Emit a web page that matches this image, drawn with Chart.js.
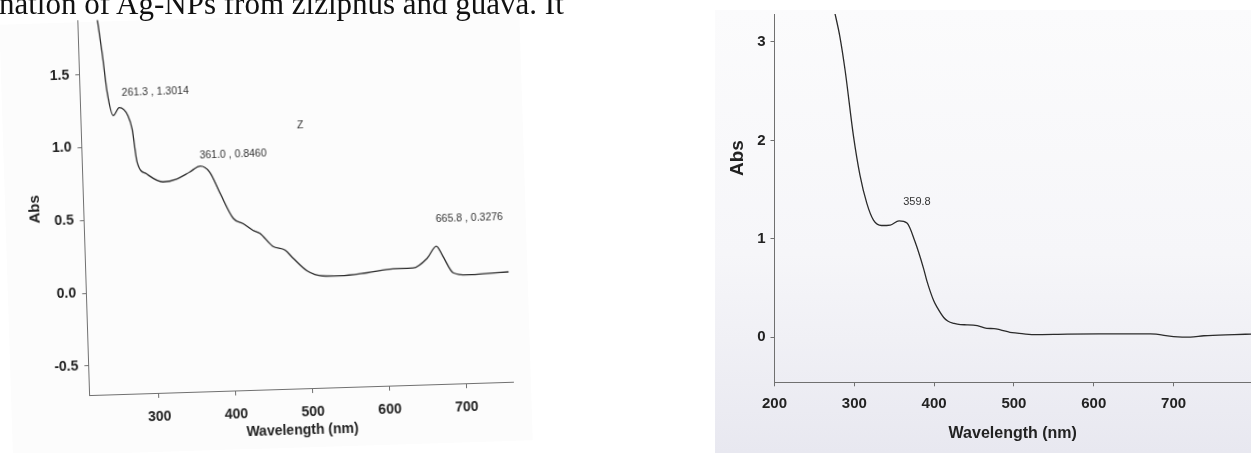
<!DOCTYPE html>
<html>
<head>
<meta charset="utf-8">
<script src="https://cdn.jsdelivr.net/npm/chart.js@4.4.0/dist/chart.umd.min.js"></script>
<style>
  html, body { margin: 0; padding: 0; background: #fff; }
  body { width: 1251px; height: 453px; position: relative; overflow: hidden; }
  #caption {
    position: absolute; left: -1px; top: -12px;
    font: 31px/31px "Liberation Serif", "Times New Roman", serif;
    color: #111; white-space: nowrap; z-index: 2;
  }
  #leftBox {
    position: absolute; left: 0; top: 0; width: 560px; height: 453px;
    transform-origin: 280px 230px; transform: rotate(-1.8deg);
  }
  #leftScan { position: absolute; left: 6px; top: 16px; width: 520px; height: 432px; background: #fcfcfc; }
  #leftChart { position: absolute; left: 0; top: 0; }
  #rightScan {
    position: absolute; left: 715px; top: 10px; width: 536px; height: 443px;
    background: linear-gradient(to bottom, #fbfbfc 0%, #f6f6f9 55%, #e8e8f0 100%);
  }
  #rightChart { position: absolute; left: 715px; top: 0; }
</style>
</head>
<body>
<div id="caption">nation of Ag-NPs from ziziphus and guava. It</div>
<div id="leftBox">
  <div id="leftScan"></div>
  <canvas id="leftChart" width="560" height="453"></canvas>
</div>
<div id="rightScan"></div>
<canvas id="rightChart" width="536" height="453"></canvas>

<script>
// left spectrum (ziziphus)
const leftWavelength = [231, 235, 240, 245, 252, 260, 271, 276, 281, 293, 314, 332, 349, 363, 375, 388, 404, 416, 429, 438, 454, 470, 480, 498, 518, 541, 576, 610, 636, 655, 667, 675, 688, 706, 727, 760];
const leftAbs = [2.06, 1.88, 1.645, 1.372, 1.214, 1.268, 1.211, 1.115, 0.89, 0.806, 0.748, 0.765, 0.81, 0.849, 0.806, 0.655, 0.482, 0.446, 0.396, 0.374, 0.283, 0.253, 0.197, 0.106, 0.068, 0.065, 0.08, 0.101, 0.103, 0.169, 0.248, 0.179, 0.061, 0.044, 0.048, 0.056];
const leftXTicks = [300, 400, 500, 600, 700];
const leftYTicks = [-0.5, 0, 0.5, 1, 1.5];
const leftNotes = [
  { text: '261.3 , 1.3014', wl: 263.8, abs: 1.369, align: 'left' },
  { text: '361.0 , 0.8460', wl: 362.5, abs: 0.922, align: 'left' },
  { text: '665.8 , 0.3276', wl: 667.4, abs: 0.43, align: 'left' },
  { text: 'Z', wl: 494.7, abs: 1.107, align: 'center' }
];

// right spectrum (guava)
const rightWavelength = [270, 276, 282, 288.5, 299, 307, 315.7, 324, 334, 345, 356, 366, 376, 386.7, 391, 399.5, 404, 412, 417, 425, 433, 441, 454, 466, 475, 483, 495, 504, 525, 567, 608, 671, 700, 721, 738, 776, 797];
const rightAbs = [3.48, 3.28, 3.05, 2.71, 2.04, 1.65, 1.36, 1.19, 1.135, 1.14, 1.183, 1.16, 0.972, 0.70, 0.57, 0.37, 0.30, 0.20, 0.165, 0.14, 0.128, 0.126, 0.117, 0.09, 0.088, 0.075, 0.05, 0.042, 0.027, 0.032, 0.034, 0.034, 0.007, 0.0, 0.015, 0.027, 0.032];
const rightXTicks = [200, 300, 400, 500, 600, 700];
const rightYTicks = [0, 1, 2, 3];
const rightNotes = [
  { text: '359.8', wl: 378.5, abs: 1.374, align: 'center' }
];

Chart.defaults.font.family = '"Liberation Sans", Arial, sans-serif';
Chart.defaults.color = '#222';

const ink = '#2b2b2b';
const axisGray = '#707070';

function toPoints(xs, ys) {
  return xs.map((x, i) => ({ x: x, y: ys[i] }));
}

function notesPlugin(items, font) {
  return {
    id: 'notes',
    afterDatasetsDraw(chart) {
      const { ctx, scales: { x, y } } = chart;
      ctx.save();
      ctx.fillStyle = '#333';
      ctx.font = font;
      ctx.textBaseline = 'middle';
      items.forEach(n => {
        ctx.textAlign = n.align;
        ctx.fillText(n.text, x.getPixelForValue(n.wl), y.getPixelForValue(n.abs));
      });
      ctx.restore();
    }
  };
}

// "Abs" on the guava plot sits above the middle of the axis
const sideTitle = {
  id: 'sideTitle',
  afterDraw(chart) {
    const { ctx, chartArea, scales: { y } } = chart;
    ctx.save();
    ctx.translate(chartArea.left - 36.5, y.getPixelForValue(1.82));
    ctx.rotate(-Math.PI / 2);
    ctx.font = 'bold 19px "Liberation Sans", Arial, sans-serif';
    ctx.fillStyle = '#222';
    ctx.textAlign = 'center';
    ctx.textBaseline = 'middle';
    ctx.fillText('Abs', 0, 0);
    ctx.restore();
  }
};

function axis(extra) {
  return Object.assign({
    type: 'linear',
    grid: { drawOnChartArea: false, drawTicks: true, tickLength: 4, color: axisGray, lineWidth: 1 },
    border: { display: true, color: axisGray, width: 1 }
  }, extra);
}

new Chart(document.getElementById('leftChart'), {
  type: 'line',
  data: {
    datasets: [{
      data: toPoints(leftWavelength, leftAbs),
      borderColor: ink, borderWidth: 1.3, pointRadius: 0,
      cubicInterpolationMode: 'monotone', fill: false
    }]
  },
  options: {
    responsive: false,
    animation: false,
    layout: { padding: { top: 10.7, right: 51.7, bottom: 0, left: 0 } },
    plugins: { legend: { display: false }, tooltip: { enabled: false } },
    scales: {
      x: axis({
        min: 209.4, max: 761.5,
        grid: { drawOnChartArea: false, tickLength: 5, color: axisGray },
        afterBuildTicks: s => { s.ticks = leftXTicks.map(v => ({ value: v })); },
        afterFit: s => { s.height = 64; },
        ticks: { font: { size: 14, weight: 'bold' }, padding: 11, maxRotation: 0 },
        title: { display: true, text: 'Wavelength (nm)', font: { size: 14, weight: 'bold' }, padding: { top: 0, bottom: 13 } }
      }),
      y: axis({
        min: -0.70, max: 1.874,
        afterBuildTicks: s => { s.ticks = leftYTicks.map(v => ({ value: v })); },
        afterFit: s => { s.width = 84.3; },
        ticks: { font: { size: 14, weight: 'bold' }, padding: 6, callback: v => v.toFixed(1) },
        title: { display: true, text: 'Abs', font: { size: 15, weight: 'bold' }, padding: { top: 26.6, bottom: 0 } }
      })
    }
  },
  plugins: [notesPlugin(leftNotes, '10.5px "Liberation Sans", Arial, sans-serif')]
});

new Chart(document.getElementById('rightChart'), {
  type: 'line',
  data: {
    datasets: [{
      data: toPoints(rightWavelength, rightAbs),
      borderColor: ink, borderWidth: 1.3, pointRadius: 0,
      cubicInterpolationMode: 'monotone', fill: false
    }]
  },
  options: {
    responsive: false,
    animation: false,
    layout: { padding: { top: 10, right: 0, bottom: 0, left: 0 } },
    plugins: { legend: { display: false }, tooltip: { enabled: false } },
    scales: {
      x: axis({
        min: 200, max: 797,
        afterBuildTicks: s => { s.ticks = rightXTicks.map(v => ({ value: v })); },
        afterFit: s => { s.height = 70.7; },
        ticks: { font: { size: 15, weight: 'bold' }, padding: 8.7, maxRotation: 0 },
        title: { display: true, text: 'Wavelength (nm)', font: { size: 16, weight: 'bold' }, padding: { top: 0, bottom: 9.4 } }
      }),
      y: axis({
        min: -0.458, max: 3.284,
        afterBuildTicks: s => { s.ticks = rightYTicks.map(v => ({ value: v })); },
        afterFit: s => { s.width = 59.5; },
        ticks: { font: { size: 15, weight: 'bold' }, padding: 5 }
      })
    }
  },
  plugins: [notesPlugin(rightNotes, '11px "Liberation Sans", Arial, sans-serif'), sideTitle]
});
</script>
</body>
</html>
